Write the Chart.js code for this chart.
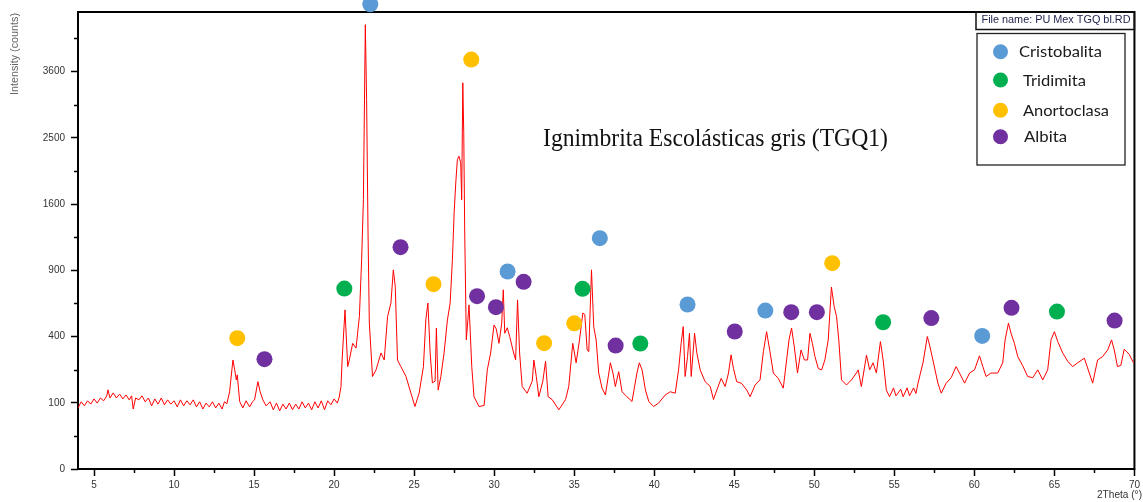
<!DOCTYPE html>
<html>
<head>
<meta charset="utf-8">
<script src="https://cdn.jsdelivr.net/npm/chart.js@4/dist/chart.umd.min.js"></script>
<style>
  html, body { margin: 0; padding: 0; background: #ffffff; }
  #wrap { width: 1143px; height: 502px; }
</style>
</head>
<body>
<div id="wrap"><canvas id="c" width="1143" height="502"></canvas></div>
<script>
// ---- Diffractogram (2Theta in degrees, intensity in counts) ----
const twoTheta = [
  4.0,4.2,4.4,4.6,4.8,5.0,5.2,5.4,5.6,5.8,
  5.87,6.0,6.2,6.4,6.6,6.8,7.0,7.2,7.35,7.45,
  7.6,7.8,8.0,8.2,8.4,8.6,8.8,9.0,9.2,9.4,
  9.6,9.8,10.0,10.2,10.4,10.6,10.8,11.0,11.2,11.4,
  11.6,11.8,12.0,12.2,12.4,12.6,12.8,13.0,13.15,13.3,
  13.47,13.68,13.79,13.89,13.95,14.1,14.3,14.5,14.72,14.9,
  15.03,15.24,15.38,15.55,15.75,16.0,16.2,16.4,16.6,16.8,
  17.0,17.2,17.4,17.6,17.8,18.0,18.2,18.4,18.6,18.8,
  19.0,19.2,19.4,19.6,19.8,20.0,20.2,20.32,20.43,20.5,
  20.68,20.85,20.95,21.16,21.37,21.58,21.72,21.83,21.95,22.03,
  22.12,22.2,22.4,22.62,22.93,23.13,23.34,23.55,23.7,23.82,
  23.96,24.17,24.49,24.8,25.05,25.31,25.58,25.73,25.86,26.0,
  26.14,26.31,26.39,26.5,26.67,26.87,27.08,27.25,27.39,27.5,
  27.6,27.7,27.8,27.91,27.97,28.04,28.1,28.16,28.26,28.43,
  28.6,28.74,29.05,29.37,29.57,29.78,29.99,30.13,30.3,30.47,
  30.57,30.66,30.82,30.97,31.17,31.34,31.46,31.59,31.75,32.06,
  32.38,32.48,32.63,32.79,33.04,33.21,33.37,33.62,34.04,34.46,
  34.66,34.91,35.12,35.33,35.54,35.66,35.81,35.91,36.08,36.22,
  36.37,36.53,36.74,36.95,37.26,37.42,37.57,37.78,37.99,38.3,
  38.61,38.92,39.07,39.24,39.45,39.66,39.96,40.27,40.69,41.0,
  41.31,41.52,41.68,41.81,41.93,42.08,42.2,42.31,42.52,42.66,
  42.87,43.18,43.5,43.7,43.91,44.18,44.43,44.64,44.8,44.95,
  45.15,45.46,45.78,45.99,46.3,46.61,46.82,47.02,47.23,47.44,
  47.75,48.06,48.27,48.42,48.58,48.75,48.95,49.17,49.38,49.58,
  49.73,49.88,50.04,50.25,50.46,50.66,50.87,51.07,51.24,51.39,
  51.53,51.7,52.01,52.32,52.63,52.74,52.94,53.26,53.46,53.67,
  53.88,54.13,54.3,54.5,54.7,54.95,55.1,55.4,55.55,55.8,
  55.95,56.2,56.35,56.48,56.79,57.06,57.2,57.41,57.72,57.93,
  58.24,58.55,58.86,59.07,59.39,59.7,60.01,60.32,60.53,60.73,
  61.04,61.46,61.77,61.92,62.13,62.29,62.5,62.71,63.02,63.33,
  63.65,63.96,64.27,64.58,64.79,65.0,65.21,65.52,65.83,66.14,
  66.45,66.87,67.18,67.39,67.7,68.01,68.33,68.57,68.74,68.94,
  69.15,69.36,69.67,69.94
];
const intensity = [
  85,103,91,106,96,112,99,115,106,122,
  143,115,132,115,128,112,125,109,122,82,
  115,109,122,103,115,91,112,96,115,94,
  109,96,106,88,109,91,106,94,109,88,
  103,82,99,88,103,85,99,82,103,97,
  136,271,224,181,202,104,85,106,88,103,
  109,174,136,109,91,103,80,99,77,96,
  82,99,80,96,82,103,85,99,80,103,
  85,106,80,106,94,112,99,118,155,271,
  577,239,271,360,333,530,998,1653,4500,3110,
  1270,487,195,224,307,271,530,628,904,759,
  271,239,195,131,89,131,239,507,628,307,
  169,176,453,142,195,307,507,628,998,1497,
  1865,2181,2230,2136,1653,3400,2577,1270,380,614,
  239,119,89,92,224,307,473,447,360,484,
  732,420,455,400,323,271,652,307,155,131,
  176,271,195,119,176,265,119,110,80,110,
  155,360,257,380,555,545,323,314,904,462,
  380,210,149,125,257,210,155,216,136,119,
  104,210,257,224,142,104,89,99,125,136,
  131,224,360,462,195,288,420,195,420,307,
  224,174,155,110,142,187,155,210,297,230,
  174,167,142,119,161,181,314,430,314,210,
  187,149,271,380,453,340,210,323,271,271,
  420,360,288,230,224,271,380,754,602,530,
  380,181,161,181,210,224,155,295,224,257,
  210,370,271,142,119,150,122,145,119,150,
  122,150,130,168,257,400,351,271,168,131,
  168,190,239,210,168,210,224,292,239,195,
  210,210,257,380,485,420,360,288,243,195,
  190,224,181,224,380,430,370,307,265,239,
  257,280,210,168,271,288,323,380,323,239,
  245,327,300,257
];

// ---- Phase markers (2Theta, counts) ----
const cristobalitaX = [22.26, 30.84, 36.6, 42.08, 46.94, 60.49];
const cristobalitaY = [4924, 889, 1215, 617, 572, 404];
const tridimitaX = [20.64, 35.52, 39.13, 54.3, 65.16];
const tridimitaY = [742, 740, 359, 491, 565];
const anortoclasaX = [13.95, 26.21, 28.57, 33.12, 35.0, 51.12];
const anortoclasaY = [390, 779, 3821, 361, 484, 966];
const albitaX = [15.65, 24.15, 28.93, 30.11, 31.84, 37.59, 45.03, 48.56, 50.16, 57.31, 62.32, 68.76];
const albitaY = [275, 1122, 681, 597, 799, 347, 431, 561, 561, 519, 592, 502];

// ---- Axes ----
const xTicks = [5, 10, 15, 20, 25, 30, 35, 40, 45, 50, 55, 60, 65, 70];
const xMinorTicks = [7.5, 12.5, 17.5, 22.5, 27.5, 32.5, 37.5, 42.5, 47.5, 52.5, 57.5, 62.5, 67.5];
const yTicks = [0, 100, 400, 900, 1600, 2500, 3600];
const yMinorTicks = [25, 225, 625, 1225, 2025, 3025, 4225];
const xRange = [4, 70];
const yRangeMax = 4761;

const legendLabels = ['Cristobalita', 'Tridimita', 'Anortoclasa', 'Albita'];
const phaseColors = ['#5B9BD5', '#00B050', '#FFC000', '#7030A0'];
const chartTitle = 'Ignimbrita Escolásticas gris (TGQ1)';
const fileNameText = 'File name: PU Mex TGQ bl.RD';
const yAxisTitle = 'Intensity (counts)';
const xAxisTitle = '2Theta (°)';

// square-root intensity axis: values are plotted as sqrt(counts)
const sq = v => Math.sqrt(v);
const pts = (xs, ys) => xs.map((x, i) => ({ x: x, y: sq(ys[i]) }));

function fitText(ctx, text, x, y, font, targetW, color, align) {
  ctx.save();
  ctx.font = font;
  ctx.fillStyle = color;
  ctx.textAlign = align || 'left';
  ctx.textBaseline = 'alphabetic';
  const w = ctx.measureText(text).width;
  ctx.translate(x, y);
  ctx.scale(targetW / w, 1);
  ctx.fillText(text, 0, 0);
  ctx.restore();
}

const overlay = {
  id: 'overlay',
  beforeDatasetsDraw(chart) {
    const { ctx, chartArea: a } = chart;
    ctx.save();
    ctx.strokeStyle = '#000';
    ctx.lineWidth = 2;
    ctx.strokeRect(a.left, a.top, a.right - a.left, a.bottom - a.top);
    ctx.restore();
  },
  afterDraw(chart) {
    const { ctx, chartArea: a, scales } = chart;
    ctx.save();
    // minor ticks
    ctx.strokeStyle = '#000';
    ctx.lineWidth = 1.5;
    ctx.beginPath();
    xMinorTicks.forEach(v => {
      const px = Math.round(scales.x.getPixelForValue(v)) + 0.5;
      ctx.moveTo(px, a.bottom); ctx.lineTo(px, a.bottom + 4);
    });
    yMinorTicks.forEach(v => {
      const py = Math.round(scales.y.getPixelForValue(sq(v))) + 0.5;
      ctx.moveTo(a.left, py); ctx.lineTo(a.left - 4, py);
    });
    ctx.stroke();

    // y-axis title (rotated)
    ctx.save();
    ctx.translate(18, 54);
    ctx.rotate(-Math.PI / 2);
    fitText(ctx, yAxisTitle, 0, 0, '10px "Liberation Sans"', 82, '#666', 'center');
    ctx.restore();

    // x-axis title
    fitText(ctx, xAxisTitle, 1097, 498, '10px "Liberation Sans"', 45, '#333', 'left');

    // chart title inside plot
    fitText(ctx, chartTitle, 543, 146, '26px "Liberation Serif"', 345, '#111', 'left');

    // file-name box
    ctx.lineWidth = 1.5;
    ctx.strokeStyle = '#111';
    ctx.strokeRect(976, 12, a.right - 976, 17.5);
    fitText(ctx, fileNameText, 981.5, 22.5, '10px "Liberation Sans"', 149, '#1c1f4a', 'left');

    // legend box
    ctx.lineWidth = 1.3;
    ctx.strokeStyle = '#222';
    ctx.strokeRect(977, 33.5, 148, 131.5);
    const ly = [51.7, 80, 110.3, 136.7];
    const tx = [1019, 1023, 1023, 1024];
    const tw = [83, 63, 86, 43];
    legendLabels.forEach((lab, i) => {
      ctx.beginPath();
      ctx.fillStyle = phaseColors[i];
      ctx.arc(1000.5, ly[i], 7.5, 0, Math.PI * 2);
      ctx.fill();
      fitText(ctx, lab, tx[i], ly[i] + 5.5, '16px Lato', tw[i], '#1a1a1a', 'left');
    });
    ctx.restore();
  }
};

const markerDs = (label, xs, ys, color) => ({
  label: label,
  data: pts(xs, ys),
  showLine: false,
  pointRadius: 8,
  pointHoverRadius: 8,
  pointBackgroundColor: color,
  pointBorderColor: color,
  pointBorderWidth: 0,
  clip: false,
  order: 0
});

new Chart(document.getElementById('c'), {
  type: 'scatter',
  data: {
    datasets: [
      markerDs(legendLabels[0], cristobalitaX, cristobalitaY, phaseColors[0]),
      markerDs(legendLabels[1], tridimitaX, tridimitaY, phaseColors[1]),
      markerDs(legendLabels[2], anortoclasaX, anortoclasaY, phaseColors[2]),
      markerDs(legendLabels[3], albitaX, albitaY, phaseColors[3]),
      {
        label: 'TGQ1',
        data: pts(twoTheta, intensity),
        showLine: true,
        borderColor: '#ff0000',
        borderWidth: 1,
        pointRadius: 0,
        pointHoverRadius: 0,
        tension: 0,
        fill: false,
        order: 1
      }
    ]
  },
  options: {
    responsive: false,
    animation: false,
    devicePixelRatio: 1,
    layout: { padding: { left: 0, top: 12, right: 6, bottom: 0 } },
    plugins: { legend: { display: false }, tooltip: { enabled: false } },
    scales: {
      x: {
        type: 'linear',
        min: xRange[0],
        max: xRange[1],
        afterBuildTicks: s => { s.ticks = xTicks.map(v => ({ value: v })); },
        afterFit: s => { s.height = 33; },
        ticks: {
          autoSkip: false,
          maxRotation: 0,
          padding: 3,
          color: '#333',
          font: { family: 'Liberation Sans', size: 10 },
          callback: v => String(v)
        },
        grid: { display: true, drawOnChartArea: false, drawTicks: true, tickLength: 7, tickWidth: 1.5, tickColor: '#000' },
        border: { display: false }
      },
      y: {
        type: 'linear',
        min: 0,
        max: sq(yRangeMax),
        afterBuildTicks: s => { s.ticks = yTicks.map(v => ({ value: sq(v) })); },
        afterFit: s => { s.width = 78; },
        ticks: {
          autoSkip: false,
          padding: 6,
          color: '#333',
          font: { family: 'Liberation Sans', size: 10 },
          callback: v => String(Math.round(v * v))
        },
        grid: { display: true, drawOnChartArea: false, drawTicks: true, tickLength: 7, tickWidth: 1.5, tickColor: '#000' },
        border: { display: false }
      }
    }
  },
  plugins: [overlay]
});
</script>
</body>
</html>
